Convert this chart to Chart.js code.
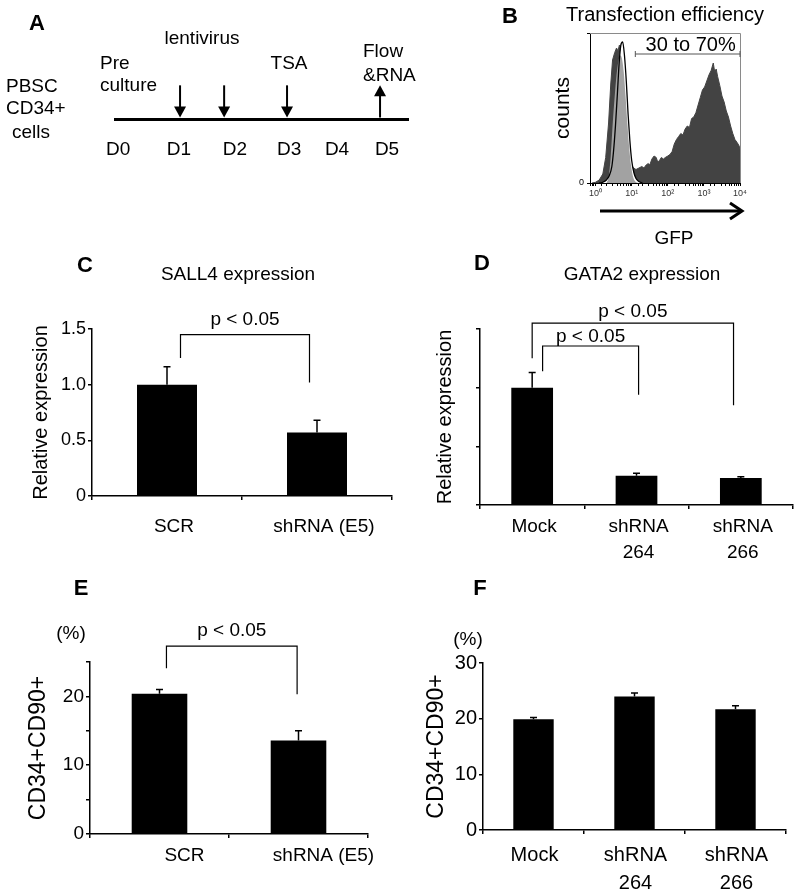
<!DOCTYPE html>
<html>
<head>
<meta charset="utf-8">
<script src="https://cdn.jsdelivr.net/npm/chart.js@4.4.1/dist/chart.umd.min.js"></script>
<style>
  body { margin: 0; background: #fff; width: 800px; height: 895px; position: relative; overflow: hidden;
         font-family: "Liberation Sans", Arial, sans-serif; color: #000; }
  canvas { position: absolute; }
  .t { position: absolute; font-size: 19px; line-height: 1; white-space: nowrap; transform: translate(-50%, -50%); }
  .l { transform: translate(0, -50%); }
  .b { font-weight: bold; font-size: 22px; }
</style>
</head>
<body>
<canvas id="chartA" width="430" height="200" style="left:0;top:0"></canvas>
<canvas id="chartB" width="260" height="250" style="left:540px;top:0"></canvas>
<canvas id="chartC" width="400" height="330" style="left:0;top:230px"></canvas>
<canvas id="chartD" width="400" height="330" style="left:400px;top:230px"></canvas>
<canvas id="chartE" width="400" height="335" style="left:0;top:560px"></canvas>
<canvas id="chartF" width="400" height="335" style="left:400px;top:560px"></canvas>

<!-- panel A text -->
<div class="t b" style="left:37px;top:23px">A</div>
<div class="t l" style="left:6px;top:85px">PBSC</div>
<div class="t l" style="left:6px;top:107px">CD34+</div>
<div class="t l" style="left:12px;top:131px">cells</div>
<div class="t l" style="left:100px;top:62px">Pre</div>
<div class="t l" style="left:100px;top:84px">culture</div>
<div class="t" style="left:202px;top:37px">lentivirus</div>
<div class="t" style="left:289px;top:62px">TSA</div>
<div class="t l" style="left:363px;top:50px">Flow</div>
<div class="t l" style="left:363px;top:74px">&amp;RNA</div>

<!-- panel B text -->
<div class="t b" style="left:510px;top:16px">B</div>
<div class="t" style="left:665px;top:14px;font-size:20px">Transfection efficiency</div>
<div class="t" style="left:674px;top:237px">GFP</div>

<!-- panel titles -->
<div class="t b" style="left:85px;top:265px">C</div>
<div class="t" style="left:238px;top:273px">SALL4 expression</div>
<div class="t b" style="left:482px;top:263px">D</div>
<div class="t" style="left:642px;top:273px">GATA2 expression</div>
<div class="t b" style="left:81px;top:588px">E</div>
<div class="t" style="left:71px;top:632px">(%)</div>
<div class="t b" style="left:480px;top:588px">F</div>
<div class="t" style="left:468px;top:638px">(%)</div>

<script>
// ---- panel A: timeline ----
const dayLabels = ['D0', 'D1', 'D2', 'D3', 'D4', 'D5'];
const dayPos = [0, 1.13, 2.17, 3.18, 4.07, 5.0];
const eventDays = [1.15, 1.97, 3.14, 4.87];
const eventDir = ['down', 'down', 'down', 'up'];

// ---- panel B: GFP histogram (x as log10 of intensity, counts in % of max) ----
const gfpLog = [-0.1, 0.0, 0.1, 0.2, 0.28, 0.36, 0.42, 0.47, 0.53, 0.58, 0.62, 0.66, 0.7, 0.75, 0.8, 0.86,
  0.92, 0.98, 1.05, 1.12, 1.2, 1.28, 1.34, 1.4, 1.46, 1.5, 1.56, 1.62, 1.68, 1.72, 1.77, 1.82, 1.88, 1.93,
  2.0, 2.06, 2.12, 2.18, 2.24, 2.3, 2.36, 2.42, 2.48, 2.54, 2.6, 2.66, 2.72, 2.78, 2.84, 2.9, 2.96, 3.02,
  3.08, 3.14, 3.2, 3.26, 3.3, 3.34, 3.38, 3.44, 3.5, 3.56, 3.62, 3.68, 3.74, 3.8, 3.86, 3.92, 3.97, 4.0];
const gfpCounts = [0, 0.5, 2, 6, 17, 40, 66, 82, 87, 90, 88, 92, 91, 85, 65, 40,
  22, 13, 10, 9, 10, 11, 10, 12, 13, 12, 16, 18, 17, 14, 15, 17, 16, 17,
  18, 19, 21, 26, 29, 31, 33, 32, 36, 38, 37, 43, 44, 47, 52, 57, 62, 64,
  68, 72, 75, 80, 74, 76, 71, 65, 58, 54, 48, 44, 38, 33, 29, 27, 25, 23];
const ctrlLog = [0.1, 0.2, 0.3, 0.38, 0.45, 0.5, 0.55, 0.6, 0.65, 0.7, 0.75, 0.8, 0.85, 0.9, 0.95, 1.0, 1.06, 1.12, 1.2, 1.3];
const ctrlCounts = [0, 0.5, 2, 5, 11, 22, 38, 58, 79, 92, 94, 85, 68, 46, 28, 15, 7, 3, 1, 0];
const isoLog = [0.3, 0.36, 0.42, 0.47, 0.53, 0.58, 0.63, 0.68, 0.73, 0.78, 0.83, 0.88, 0.93, 0.98, 1.04, 1.1, 1.18];
const isoCounts = [0, 4, 18, 38, 58, 72, 81, 85, 83, 74, 58, 40, 24, 12, 4, 1, 0];
const gateRange = [12.6, 10000];
const gateLevel = 86;
const gateLabel = '30 to 70%';

// ---- panel C: SALL4 expression ----
const sallLabels = ['SCR', 'shRNA (E5)'];
const sallValues = [1.0, 0.57];
const sallErrors = [0.16, 0.11];
const sallBracketX = [[0.09, 0.95]];
const sallBracketY = [[1.24, 1.45, 1.02]];

// ---- panel D: GATA2 expression ----
const gataLabels = ['Mock', ['shRNA', '264'], ['shRNA', '266']];
const gataValues = [1.0, 0.25, 0.23];
const gataErrors = [0.13, 0.02, 0.01];
const gataBracketX = [[0.0, 1.93], [0.1, 1.02]];
const gataBracketY = [[1.25, 1.55, 0.85], [1.14, 1.355, 0.94]];

// ---- panel E: CD34+CD90+ after SALL4 knockdown ----
const cdLabels = ['SCR', 'shRNA (E5)'];
const cdValues = [20.4, 13.6];
const cdErrors = [0.6, 1.4];
const cdBracketX = [[0.05, 0.99]];
const cdBracketY = [[24.1, 27.3, 20.3]];

// ---- panel F: CD34+CD90+ after GATA2 knockdown ----
const cdgLabels = ['Mock', ['shRNA', '264'], ['shRNA', '266']];
const cdgValues = [19.9, 24.0, 21.7];
const cdgErrors = [0.3, 0.6, 0.6];

const pLabel = 'p < 0.05';
const FONT = '"Liberation Sans", Arial, sans-serif';
Chart.defaults.font.family = FONT;
Chart.defaults.color = '#000';

// error bars (upper half only) on top of the bars
function errorBarPlugin(errors) {
  return {
    id: 'errorBars',
    afterDatasetsDraw(chart) {
      const { ctx } = chart;
      const y = chart.scales.y;
      const values = chart.data.datasets[0].data;
      ctx.save();
      ctx.strokeStyle = '#000';
      ctx.lineWidth = 1.5;
      chart.getDatasetMeta(0).data.forEach((bar, i) => {
        const top = y.getPixelForValue(values[i] + errors[i]);
        ctx.beginPath();
        ctx.moveTo(bar.x, bar.y);
        ctx.lineTo(bar.x, top);
        ctx.moveTo(bar.x - 3.5, top);
        ctx.lineTo(bar.x + 3.5, top);
        ctx.stroke();
      });
      ctx.restore();
    }
  };
}

// significance brackets, in category / value units
function bracketPlugin(bx, by, gaps) {
  return {
    id: 'brackets',
    afterDraw(chart) {
      const { ctx } = chart;
      const { x, y } = chart.scales;
      ctx.save();
      ctx.strokeStyle = '#000';
      ctx.fillStyle = '#000';
      ctx.lineWidth = 1.2;
      ctx.font = '19px ' + FONT;
      ctx.textAlign = 'center';
      ctx.textBaseline = 'middle';
      bx.forEach((pair, i) => {
        const l = x.getPixelForValue(pair[0]);
        const r = x.getPixelForValue(pair[1]);
        const [yl, yt, yr] = by[i].map(v => y.getPixelForValue(v));
        ctx.beginPath();
        ctx.moveTo(l, yl);
        ctx.lineTo(l, yt);
        ctx.lineTo(r, yt);
        ctx.lineTo(r, yr);
        ctx.stroke();
        ctx.fillText(pLabel, (l + r) / 2, yt - gaps[i]);
      });
      ctx.restore();
    }
  };
}

function barChart(id, p) {
  return new Chart(document.getElementById(id), {
    type: 'bar',
    data: {
      labels: p.labels,
      datasets: [{
        data: p.values,
        backgroundColor: '#000',
        borderWidth: 0,
        barPercentage: 0.4,
        categoryPercentage: 1
      }]
    },
    options: {
      responsive: false,
      animation: false,
      layout: { padding: p.pad },
      plugins: { legend: { display: false }, tooltip: { enabled: false } },
      scales: {
        x: {
          grid: { drawOnChartArea: false, offset: true, tickLength: 4, color: '#000', lineWidth: 1.5 },
          border: { color: '#000', width: 1.5 },
          ticks: {
            font: { size: p.xFont, lineHeight: 1.4 },
            padding: p.xPad,
            labelOffset: p.labelOffset,
            maxRotation: 0,
            autoSkip: false
          },
          afterFit: s => { s.height = p.xHeight; }
        },
        y: {
          min: 0,
          max: p.max,
          grid: { drawOnChartArea: false, tickLength: 4, color: '#000', lineWidth: 1.5 },
          border: { color: '#000', width: 1.5 },
          ticks: { stepSize: p.step, font: { size: p.yFont }, padding: 2, callback: p.tickFmt },
          title: {
            display: true,
            text: p.yTitle,
            font: { size: p.titleFont },
            padding: { top: p.titlePad, bottom: 0 }
          },
          afterFit: s => { s.width = p.yWidth; }
        }
      }
    },
    plugins: [errorBarPlugin(p.errors), bracketPlugin(p.bx || [], p.by || [], p.gaps || [])]
  });
}

// ---------- A ----------
const arrowPlugin = {
  id: 'eventArrows',
  afterDraw(chart) {
    const { ctx } = chart;
    const { x, y } = chart.scales;
    const base = y.getPixelForValue(0) - 1.5;
    const top = y.getPixelForValue(0.34);
    ctx.save();
    ctx.strokeStyle = '#000';
    ctx.fillStyle = '#000';
    ctx.lineWidth = 2;
    eventDays.forEach((d, i) => {
      const px = x.getPixelForValue(d);
      ctx.beginPath();
      if (eventDir[i] === 'down') {
        ctx.moveTo(px, top);
        ctx.lineTo(px, base - 8);
        ctx.stroke();
        ctx.beginPath();
        ctx.moveTo(px - 6, base - 11);
        ctx.lineTo(px + 6, base - 11);
        ctx.lineTo(px, base);
      } else {
        ctx.moveTo(px, base);
        ctx.lineTo(px, top + 8);
        ctx.stroke();
        ctx.beginPath();
        ctx.moveTo(px - 6, top + 11);
        ctx.lineTo(px + 6, top + 11);
        ctx.lineTo(px, top);
      }
      ctx.closePath();
      ctx.fill();
    });
    ctx.restore();
  }
};

new Chart(document.getElementById('chartA'), {
  type: 'scatter',
  data: { datasets: [{ data: eventDays.map(d => ({ x: d, y: 0 })), pointRadius: 0 }] },
  options: {
    responsive: false,
    animation: false,
    layout: { padding: { left: 115, right: 22, top: 20, bottom: 0 } },
    plugins: { legend: { display: false }, tooltip: { enabled: false } },
    scales: {
      x: {
        type: 'linear',
        min: -0.06,
        max: 5.39,
        grid: { display: false },
        border: { color: '#000', width: 3 },
        afterBuildTicks: s => { s.ticks = dayPos.map(v => ({ value: v })); },
        ticks: { callback: (v, i) => dayLabels[i], font: { size: 19 }, padding: 11, autoSkip: false, maxRotation: 0 },
        afterFit: s => { s.height = 81; }
      },
      y: { display: false, min: 0, max: 1 }
    }
  },
  plugins: [arrowPlugin]
});

// ---------- B ----------
const sup = ['\u2070', '\u00b9', '\u00b2', '\u00b3', '\u2074'];
const toPoints = (logs, counts) => logs.map((l, i) => ({ x: Math.pow(10, l), y: counts[i] }));

const histDecor = {
  id: 'histDecor',
  afterDraw(chart) {
    const { ctx, chartArea: a } = chart;
    const { x, y } = chart.scales;
    ctx.save();
    // frame
    ctx.strokeStyle = '#8a8a8a';
    ctx.lineWidth = 1;
    ctx.beginPath();
    ctx.moveTo(a.left, a.top + 0.5);
    ctx.lineTo(a.right + 0.5, a.top + 0.5);
    ctx.lineTo(a.right + 0.5, a.bottom);
    ctx.stroke();
    // gate
    const gy = y.getPixelForValue(gateLevel);
    const g0 = x.getPixelForValue(gateRange[0]);
    const g1 = x.getPixelForValue(gateRange[1]);
    ctx.strokeStyle = '#555';
    ctx.beginPath();
    ctx.moveTo(g0, gy);
    ctx.lineTo(g1, gy);
    ctx.moveTo(g0, gy - 3);
    ctx.lineTo(g0, gy + 3);
    ctx.moveTo(g1, gy - 3);
    ctx.lineTo(g1, gy + 3);
    ctx.stroke();
    ctx.fillStyle = '#000';
    ctx.font = '20px ' + FONT;
    ctx.textAlign = 'center';
    ctx.textBaseline = 'middle';
    ctx.fillText(gateLabel, (g0 + g1) / 2 + 3, gy - 9);
    // axis arrow
    const ay = 211;
    ctx.strokeStyle = '#000';
    ctx.lineWidth = 3;
    ctx.beginPath();
    ctx.moveTo(a.left + 10, ay);
    ctx.lineTo(a.right + 1, ay);
    ctx.stroke();
    ctx.beginPath();
    ctx.moveTo(a.right - 10, ay - 8);
    ctx.lineTo(a.right + 2, ay);
    ctx.lineTo(a.right - 10, ay + 8);
    ctx.stroke();
    ctx.restore();
  }
};

new Chart(document.getElementById('chartB'), {
  type: 'line',
  data: {
    datasets: [
      { data: toPoints(ctrlLog, ctrlCounts), fill: false, borderColor: '#000', borderWidth: 1.3,
        pointRadius: 0, cubicInterpolationMode: 'monotone', order: 0 },
      { data: toPoints(isoLog, isoCounts), fill: 'origin', backgroundColor: '#a2a2a2', borderWidth: 0,
        pointRadius: 0, cubicInterpolationMode: 'monotone', order: 1 },
      { data: toPoints(ctrlLog, ctrlCounts), fill: 'origin', backgroundColor: '#fff', borderWidth: 0,
        pointRadius: 0, cubicInterpolationMode: 'monotone', order: 2 },
      { data: toPoints(gfpLog, gfpCounts), fill: 'origin', backgroundColor: '#434343', borderColor: '#434343',
        borderWidth: 1, pointRadius: 0, tension: 0, order: 3 }
    ]
  },
  options: {
    responsive: false,
    animation: false,
    layout: { padding: { left: 0, top: 33, right: 60, bottom: 0 } },
    plugins: { legend: { display: false }, tooltip: { enabled: false } },
    scales: {
      x: {
        type: 'logarithmic',
        min: 0.73,
        max: 10000,
        grid: { drawOnChartArea: false, tickLength: 3, color: '#000', lineWidth: 1 },
        border: { color: '#000', width: 1 },
        ticks: {
          autoSkip: false,
          maxRotation: 0,
          padding: 2,
          font: { size: 9 },
          color: '#333',
          callback: v => {
            const e = Math.log10(v);
            return Math.abs(e - Math.round(e)) < 1e-6 ? '10' + sup[Math.round(e)] : '';
          }
        },
        afterFit: s => { s.height = 67; }
      },
      y: {
        min: 0,
        max: 100,
        grid: { drawOnChartArea: false, tickLength: 3, color: '#000', lineWidth: 1 },
        border: { color: '#000', width: 1 },
        ticks: { stepSize: 100, padding: 3, font: { size: 9 }, callback: v => (v === 0 ? '0' : '') },
        title: { display: true, text: 'counts', font: { size: 21 }, padding: { top: 11, bottom: 0 } },
        afterFit: s => { s.width = 50; }
      }
    }
  },
  plugins: [histDecor]
});

// ---------- C ----------
barChart('chartC', {
  labels: sallLabels, values: sallValues, errors: sallErrors,
  bx: sallBracketX, by: sallBracketY, gaps: [15],
  pad: { left: 0, top: 99, right: 8, bottom: 0 }, yWidth: 92, xHeight: 64,
  max: 1.5, step: 0.5, tickFmt: v => (v === 0 ? '0' : v.toFixed(1)),
  xFont: 19, xPad: 13, labelOffset: 7, yFont: 18,
  yTitle: 'Relative expression', titleFont: 20, titlePad: 29
});

// ---------- D ----------
barChart('chartD', {
  labels: gataLabels, values: gataValues, errors: gataErrors,
  bx: gataBracketX, by: gataBracketY, gaps: [11, 9],
  pad: { left: 0, top: 99, right: 7, bottom: 0 }, yWidth: 80, xHeight: 55,
  max: 1.5, step: 0.5, tickFmt: () => '',
  xFont: 19, xPad: 4, labelOffset: 2, yFont: 18,
  yTitle: 'Relative expression', titleFont: 20, titlePad: 33
});

// ---------- E ----------
barChart('chartE', {
  labels: cdLabels, values: cdValues, errors: cdErrors,
  bx: cdBracketX, by: cdBracketY, gaps: [15],
  pad: { left: 0, top: 102, right: 32, bottom: 0 }, yWidth: 90, xHeight: 61,
  max: 25, step: 5, tickFmt: v => (v % 10 === 0 ? String(v) : ''),
  xFont: 19, xPad: 4, labelOffset: 25, yFont: 19,
  yTitle: 'CD34+CD90+', titleFont: 23, titlePad: 25
});

// ---------- F ----------
barChart('chartF', {
  labels: cdgLabels, values: cdgValues, errors: cdgErrors,
  pad: { left: 0, top: 103, right: 14, bottom: 0 }, yWidth: 83, xHeight: 65,
  max: 30, step: 10, tickFmt: v => String(v),
  xFont: 20, xPad: 7, labelOffset: 1, yFont: 20,
  yTitle: 'CD34+CD90+', titleFont: 23, titlePad: 23
});
</script>
</body>
</html>
